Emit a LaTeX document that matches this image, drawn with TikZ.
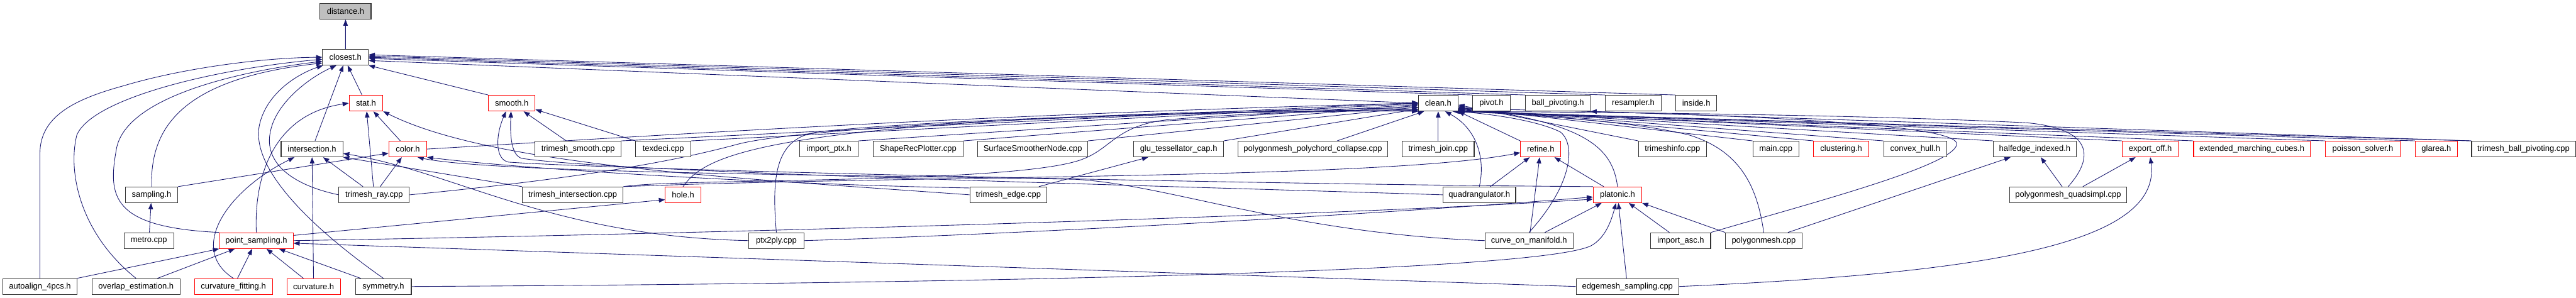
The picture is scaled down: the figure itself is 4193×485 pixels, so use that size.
\documentclass[tikz,border=0pt]{standalone}
\usepackage{fontspec}
\setmainfont{Liberation Sans}
\usetikzlibrary{arrows.meta}
\definecolor{edgeblue}{HTML}{191970}
\pgfdeclarelayer{edges}
\pgfsetlayers{edges,main}
\tikzset{
  file/.style={draw=black!80, line width=1.1pt, fill=white, inner sep=0pt,
    minimum height=25.6pt, font=\fontsize{13.3}{16}\selectfont},
  part/.style={file, draw=red},
  self/.style={file, fill=black!25},
  dep/.style={draw=edgeblue, line width=0.9pt, -{Triangle[length=10pt,width=7.5pt]}},
}
\begin{document}
\begin{tikzpicture}[x=1pt,y=-1pt]
\useasboundingbox (0,0) rectangle (4193,485);
% row 0 and 1
\node[self, minimum width=83pt] (distance) at (562.5,18.5) {distance.h};
\node[file, minimum width=74.6pt] (closest) at (562.3,93.2) {closest.h};
% row 2
\node[part, minimum width=55pt] (stat) at (595.7,168) {stat.h};
\node[part, minimum width=76pt] (smooth) at (833,168) {smooth.h};
\node[file, minimum width=64.3pt] (clean) at (2341,168) {clean.h};
\node[file, minimum width=61.6pt] (pivot) at (2427.7,168) {pivot.h};
\node[file, minimum width=105.4pt] (ballpiv) at (2535.7,168) {ball\_pivoting.h};
\node[file, minimum width=91pt] (resampler) at (2658.5,168) {resampler.h};
\node[file, minimum width=67pt] (inside) at (2761,168) {inside.h};
% row 3
\node[file, minimum width=100.4pt] (intersection) at (507.8,242.7) {intersection.h};
\node[part, minimum width=61.6pt] (color) at (663.8,242.7) {color.h};
\node[file, minimum width=140pt] (trismooth) at (941,242.7) {trimesh\_smooth.cpp};
\node[file, minimum width=89.7pt] (texdeci) at (1079.7,242.7) {texdeci.cpp};
\node[file, minimum width=95pt] (importptx) at (1349.4,242.7) {import\_ptx.h};
\node[file, minimum width=147pt] (shaperec) at (1494.4,242.7) {ShapeRecPlotter.cpp};
\node[file, minimum width=179pt] (surfsmooth) at (1681,242.7) {SurfaceSmootherNode.cpp};
\node[file, minimum width=146pt] (glutess) at (1918.5,242.7) {glu\_tessellator\_cap.h};
\node[file, minimum width=243pt] (polychord) at (2137,242.7) {polygonmesh\_polychord\_collapse.cpp};
\node[file, minimum width=117pt] (trijoin) at (2341,242.7) {trimesh\_join.cpp};
\node[part, minimum width=65.6pt] (refine) at (2507.8,242.7) {refine.h};
\node[file, minimum width=110.7pt] (triinfo) at (2722.3,242.7) {trimeshinfo.cpp};
\node[file, minimum width=75pt] (maincpp) at (2890.6,242.7) {main.cpp};
\node[part, minimum width=89.7pt] (clustering) at (2997,242.7) {clustering.h};
\node[file, minimum width=102.7pt] (convexhull) at (3117.4,242.7) {convex\_hull.h};
\node[file, minimum width=134.8pt] (halfedge) at (3312,242.7) {halfedge\_indexed.h};
\node[part, minimum width=91pt] (exportoff) at (3500,242.7) {export\_off.h};
\node[part, minimum width=189.7pt] (extmc) at (3665.4,242.7) {extended\_marching\_cubes.h};
\node[part, minimum width=121.4pt] (poisson) at (3846,242.7) {poisson\_solver.h};
\node[part, minimum width=68.7pt] (glarea) at (3965.6,242.7) {glarea.h};
\node[file, minimum width=169pt] (triballpiv) at (4107.5,242.7) {trimesh\_ball\_pivoting.cpp};
% row 4
\node[file, minimum width=85.3pt] (sampling) at (246.7,317.2) {sampling.h};
\node[file, minimum width=114.7pt] (triray) at (609,317.2) {trimesh\_ray.cpp};
\node[file, minimum width=164.3pt] (triinter) at (932.2,317.2) {trimesh\_intersection.cpp};
\node[part, minimum width=57.6pt] (hole) at (1111.8,317.2) {hole.h};
\node[file, minimum width=125.4pt] (triedge) at (1641.3,317.2) {trimesh\_edge.cpp};
\node[file, minimum width=118.3pt] (quadrang) at (2407.9,317.2) {quadrangulator.h};
\node[part, minimum width=79pt] (platonic) at (2632.8,317.2) {platonic.h};
\node[file, minimum width=190.6pt] (quadsimpl) at (3366.3,317.2) {polygonmesh\_quadsimpl.cpp};
% row 5
\node[file, minimum width=80.4pt] (metro) at (242.4,391.8) {metro.cpp};
\node[part, minimum width=120pt] (ptsampling) at (417.2,391.8) {point\_sampling.h};
\node[file, minimum width=89.7pt] (ptx2ply) at (1263.7,391.8) {ptx2ply.cpp};
\node[file, minimum width=142.9pt] (curvemani) at (2488.8,391.8) {curve\_on\_manifold.h};
\node[file, minimum width=97.3pt] (importasc) at (2735.7,391.8) {import\_asc.h};
\node[file, minimum width=124.5pt] (polymesh) at (2870.8,391.8) {polygonmesh.cpp};
% row 6
\node[file, minimum width=120pt] (autoalign) at (65,466.5) {autoalign\_4pcs.h};
\node[file, minimum width=142.9pt] (overlap) at (221.4,466.5) {overlap\_estimation.h};
\node[part, minimum width=126.8pt] (curvfit) at (379.9,466.5) {curvature\_fitting.h};
\node[part, minimum width=87pt] (curvature) at (510.5,466.5) {curvature.h};
\node[file, minimum width=91pt] (symmetry) at (624,466.5) {symmetry.h};
\node[file, minimum width=167pt] (edgesamp) at (2649,466.5) {edgemesh\_sampling.cpp};
\begin{pgfonlayer}{edges}
% into distance.h and closest.h
\draw[dep] (closest) -- (distance);
\draw[dep] (autoalign.north) -- (65,250) .. controls (65,190) and (120,162) .. (200,140) .. controls (300,110) and (430,94) .. (closest.west);
\draw[dep] (overlap.north) .. controls (130,380) and (110,280) .. (125,220) .. controls (150,160) and (350,112) .. (closest.185);
\draw[dep] (ptsampling.north west) .. controls (180,370) and (175,320) .. (190,240) .. controls (210,150) and (420,112) .. (closest.190);
\draw[dep] (sampling.north) .. controls (245,220) and (280,130) .. (closest.194);
\draw[dep] (symmetry.north) .. controls (520,380) and (408,280) .. (422,205) .. controls (432,155) and (480,122) .. (closest.200);
\draw[dep] (triray.west) .. controls (470,300) and (430,262) .. (440,215) .. controls (448,170) and (500,128) .. (closest.222);
\draw[dep] (intersection) -- (closest.255);
\draw[dep] (stat) -- (closest.285);
\draw[dep] (smooth.north west) -- (closest.south east);
\draw[dep] (clean.west) -- (closest.-8);
\draw[dep] (pivot.north west) -- (closest.-3);
\draw[dep] (ballpiv.north west) -- (closest.east);
\draw[dep] (resampler.north west) -- (closest.3);
\draw[dep] (inside.north west) -- (closest.6);
% into stat.h
\draw[dep] (ptsampling.north) .. controls (413,280) and (450,185) .. (stat.west);
\draw[dep] (triray) -- (stat);
\draw[dep] (color) -- (stat);
\draw[dep] (triedge.west) .. controls (1200,290) and (800,270) .. (stat.south east);
% into color.h
\draw[dep] (sampling.north east) -- (color.192);
\draw[dep] (triray) -- (color);
\draw[dep] (triedge.170) .. controls (1250,300) and (850,275) .. (color.south east);
\draw[dep] (curvemani.west) .. controls (2100,380) and (1900,300) .. (1750,292) .. controls (1400,285) and (800,282) .. (color.-40);
% into intersection.h
\draw[dep] (curvfit.north) .. controls (305,405) and (370,310) .. (intersection.205);
\draw[dep] (curvature) -- (intersection);
\draw[dep] (triray) -- (intersection);
\draw[dep] (triinter.north west) -- (intersection.south east);
\draw[dep] (ptx2ply.west) .. controls (900,385) and (740,280) .. (intersection.-8);
% into smooth.h
\draw[dep] (trismooth) -- (smooth);
\draw[dep] (texdeci.north west) -- (smooth.-15);
\draw[dep] (quadrang.west) .. controls (1800,300) and (1000,280) .. (850,258) .. controls (832,254) and (830,220) .. (smooth.-95);
\draw[dep] (platonic.north west) .. controls (2000,300) and (1000,276) .. (828,264) .. controls (806,260) and (806,222) .. (smooth.-125);
% into clean.h
\draw[dep] (color.east) .. controls (1000,225) and (1600,185) .. (clean.west);
\draw[dep] (triray.east) .. controls (950,290) and (1100,262) .. (1200,235) .. controls (1300,208) and (1800,182) .. (clean.200);
\draw[dep] (trismooth.north east) -- (clean.178);
\draw[dep] (texdeci.north east) -- (clean.181);
\draw[dep] (importptx.north east) -- (clean.184);
\draw[dep] (shaperec.north east) -- (clean.187);
\draw[dep] (surfsmooth.north east) -- (clean.191);
\draw[dep] (glutess.north east) -- (clean.196);
\draw[dep] (polychord) -- (clean.210);
\draw[dep] (trijoin) -- (clean);
\draw[dep] (hole.north) .. controls (1150,250) and (1250,190) .. (clean.193);
\draw[dep] (ptx2ply.north) .. controls (1255,280) and (1265,225) .. (1330,215) .. controls (1500,195) and (2000,180) .. (clean.198);
\draw[dep] (triinter.north east) .. controls (1100,290) and (1650,300) .. (1760,260) .. controls (1810,242) and (1815,205) .. (1900,195) .. controls (2050,182) and (2200,180) .. (clean.202);
\draw[dep] (refine.north west) -- (clean.south east);
\draw[dep] (quadrang.north) .. controls (2418,260) and (2405,210) .. (clean.-50);
\draw[dep] (curvemani.north) .. controls (2560,300) and (2565,235) .. (2540,215) .. controls (2500,195) and (2420,185) .. (clean.-25);
\draw[dep] (platonic.north) .. controls (2625,240) and (2580,200) .. (clean.-10);
\draw[dep] (triinfo.north west) -- (clean.-5);
\draw[dep] (maincpp.north west) -- (clean.-12);
\draw[dep] (clustering.north west) -- (clean.-14);
\draw[dep] (convexhull.north west) -- (clean.-16);
\draw[dep] (halfedge.north west) -- (clean.-18);
\draw[dep] (exportoff.north west) -- (clean.-20);
\draw[dep] (extmc.north west) -- (clean.-22);
\draw[dep] (poisson.north west) -- (clean.-24);
\draw[dep] (glarea.north west) -- (clean.-26);
\draw[dep] (triballpiv.north west) -- (clean.-28);
\draw[dep] (importasc.north east) .. controls (2950,330) and (3180,270) .. (3185,235) .. controls (3190,200) and (2800,185) .. (clean.-15);
\draw[dep] (polymesh.north) .. controls (2860,300) and (2830,245) .. (2750,220) .. controls (2650,195) and (2450,185) .. (clean.-22);
\draw[dep] (quadsimpl.north) .. controls (3410,255) and (3405,210) .. (3300,200) .. controls (3000,185) and (2500,182) .. (clean.-30);
% into ball_pivoting.h, refine.h, glu_tessellator_cap.h, hole.h
\draw[dep] (triballpiv.north west) -- (ballpiv.south east);
\draw[dep] (triinter.north east) .. controls (1500,285) and (2250,292) .. (refine.190);
\draw[dep] (quadrang) -- (refine);
\draw[dep] (curvemani) -- (refine);
\draw[dep] (platonic) -- (refine);
\draw[dep] (triedge) -- (glutess);
\draw[dep] (ptsampling.8) -- (hole.195);
% into platonic.h
\draw[dep] (ptsampling.east) .. controls (1200,380) and (2200,350) .. (platonic.190);
\draw[dep] (ptx2ply.east) .. controls (1700,380) and (2300,345) .. (platonic.185);
\draw[dep] (symmetry.east) .. controls (1500,462) and (2500,445) .. (2590,400) .. controls (2612,388) and (2622,362) .. (platonic.-100);
\draw[dep] (curvemani) -- (platonic);
\draw[dep] (edgesamp) -- (platonic);
\draw[dep] (importasc) -- (platonic);
\draw[dep] (polymesh.north west) -- (platonic.south east);
% into halfedge_indexed.h and export_off.h
\draw[dep] (quadsimpl) -- (halfedge);
\draw[dep] (polymesh) -- (halfedge);
\draw[dep] (quadsimpl) -- (exportoff);
\draw[dep] (edgesamp.east) .. controls (3220,445) and (3520,400) .. (exportoff.south);
% into point_sampling.h and sampling.h
\draw[dep] (autoalign.north east) -- (ptsampling.south west);
\draw[dep] (overlap) -- (ptsampling);
\draw[dep] (curvfit) -- (ptsampling);
\draw[dep] (curvature) -- (ptsampling);
\draw[dep] (symmetry) -- (ptsampling);
\draw[dep] (edgesamp.west) -- (ptsampling.-4);
\draw[dep] (metro) -- (sampling);
\end{pgfonlayer}
\end{tikzpicture}
\end{document}
